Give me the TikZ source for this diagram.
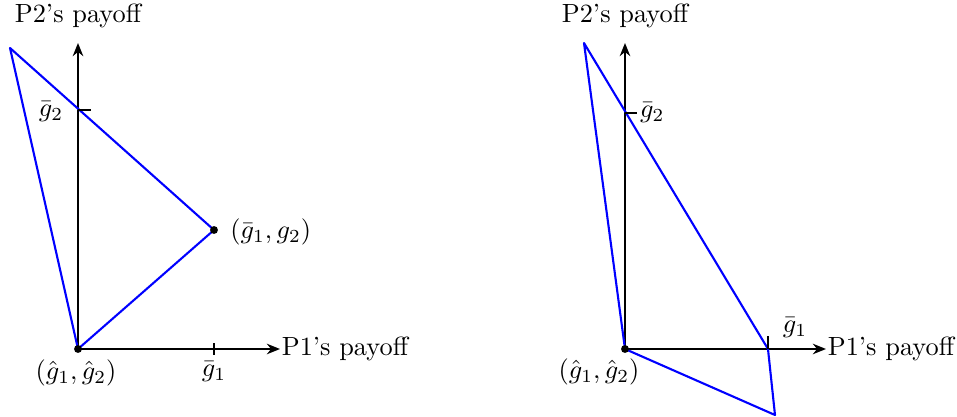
\documentclass[tikz,border=0pt]{standalone}
\usetikzlibrary{arrows.meta}
\begin{document}
\begin{tikzpicture}[x=0.38pt,y=-0.38pt,
  axis/.style={thick,-{Stealth[length=5pt,width=4pt]}},
  region/.style={blue,thick,line join=round},
  tick/.style={thin},
  dot/.style={circle,fill=black,inner sep=0pt,minimum size=3pt}]
\useasboundingbox (0,0) rectangle (957,417);
% ---------- left panel ----------
\coordinate (O1) at (78,349);
\coordinate (X1) at (280,349);
\coordinate (Y1) at (78,43);
\coordinate (A1) at (10,48);
\coordinate (B1) at (214,230);
\draw[axis] (O1) -- (X1);
\draw[axis] (O1) -- (Y1);
\node[anchor=west,inner sep=0.5pt] (xl1) at (X1) {P1's payoff};
\node (yl1) at (78,16) {P2's payoff};
\draw[region] (O1) -- (A1) -- (B1) -- cycle;
\draw[tick] (214,343) -- (214,355);
\draw[tick] (78,110) -- (91,110);
\node (g1l) at (214,372) {$\bar{g}_1$};
\node (g2l) at (51,112) {$\bar{g}_2$};
\node[dot] (d1) at (O1) {};
\node[dot] (d2) at (B1) {};
\node[anchor=west] (bl) at (221,232) {$(\bar{g}_1,g_2)$};
\node (ol1) at (76,373) {$(\hat{g}_1,\hat{g}_2)$};
% ---------- right panel ----------
\coordinate (O2) at (625,349);
\coordinate (X2) at (826,349);
\coordinate (Y2) at (625,43);
\coordinate (A2) at (584,43);
\coordinate (B2) at (768,349);
\coordinate (C2) at (775,415);
\draw[axis] (O2) -- (X2);
\draw[axis] (O2) -- (Y2);
\node[anchor=west,inner sep=0.5pt] (xl2) at (X2) {P1's payoff};
\node (yl2) at (625,16) {P2's payoff};
\draw[region] (O2) -- (A2) -- (B2) -- (C2) -- cycle;
\draw[tick] (768,336) -- (768,349);
\draw[tick] (625,113) -- (637,113);
\node[anchor=west,inner sep=1pt] (g2r) at (637,113) {$\bar{g}_2$};
\node (g1r) at (795,328) {$\bar{g}_1$};
\node[dot] (d3) at (O2) {};
\node (ol2) at (599,372) {$(\hat{g}_1,\hat{g}_2)$};
\end{tikzpicture}
\end{document}
